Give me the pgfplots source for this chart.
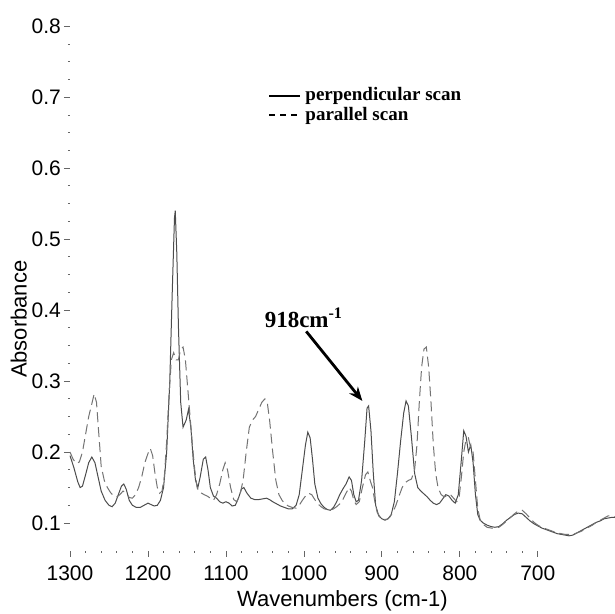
\documentclass[border=0pt]{standalone}
\usepackage{fontspec}
\setmainfont{Liberation Sans}
\newfontfamily\tnr{Liberation Serif}
\usepackage{pgfplots}
\pgfplotsset{compat=1.18}
\usetikzlibrary{arrows.meta}

\pgfplotstableread{
w a
1300 0.195
1295 0.178
1290 0.158
1287 0.150
1284 0.152
1280 0.168
1276 0.185
1272 0.193
1268 0.185
1264 0.165
1260 0.145
1255 0.132
1250 0.125
1246 0.123
1242 0.128
1238 0.140
1234 0.152
1231 0.155
1228 0.148
1224 0.132
1220 0.125
1215 0.122
1210 0.122
1205 0.125
1200 0.128
1196 0.126
1192 0.124
1188 0.125
1184 0.132
1180 0.150
1176 0.200
1172 0.300
1169 0.420
1166 0.530
1165 0.540
1163 0.480
1161 0.380
1158 0.270
1155 0.235
1151 0.245
1148 0.260
1145 0.235
1142 0.190
1139 0.160
1136 0.150
1133 0.165
1129 0.190
1126 0.193
1123 0.175
1120 0.150
1116 0.138
1112 0.135
1108 0.130
1104 0.128
1100 0.130
1096 0.128
1092 0.124
1088 0.125
1084 0.135
1080 0.148
1077 0.150
1073 0.142
1068 0.135
1063 0.133
1058 0.133
1053 0.134
1048 0.135
1044 0.133
1040 0.130
1035 0.127
1030 0.124
1025 0.122
1020 0.120
1015 0.120
1010 0.125
1006 0.140
1002 0.175
998 0.210
995 0.228
992 0.220
989 0.190
986 0.155
982 0.135
978 0.127
974 0.122
970 0.119
966 0.118
962 0.122
958 0.130
954 0.140
950 0.148
946 0.155
942 0.165
939 0.160
936 0.140
933 0.130
930 0.132
926 0.160
922 0.215
919 0.262
917 0.265
914 0.230
911 0.170
908 0.125
904 0.110
900 0.106
896 0.104
892 0.106
888 0.112
884 0.130
880 0.170
876 0.215
872 0.255
869 0.272
866 0.265
862 0.220
858 0.170
854 0.150
850 0.145
846 0.141
842 0.137
838 0.132
834 0.128
830 0.126
826 0.128
822 0.134
818 0.140
814 0.138
810 0.132
806 0.128
802 0.140
798 0.190
795 0.230
792 0.222
789 0.200
786 0.210
783 0.185
780 0.140
777 0.112
774 0.104
770 0.100
765 0.097
760 0.095
755 0.094
750 0.095
745 0.099
740 0.104
735 0.108
730 0.112
725 0.114
720 0.113
715 0.108
710 0.103
705 0.099
700 0.096
695 0.093
690 0.091
685 0.089
680 0.087
675 0.085
670 0.084
665 0.083
660 0.082
655 0.083
650 0.086
645 0.089
640 0.092
635 0.095
630 0.098
625 0.101
620 0.103
615 0.106
610 0.107
605 0.108
601 0.108
}\perp

\pgfplotstableread{
w a
1300 0.200
1296 0.190
1292 0.184
1288 0.186
1284 0.200
1280 0.225
1276 0.250
1272 0.268
1269 0.282
1266 0.270
1263 0.225
1260 0.180
1256 0.160
1252 0.150
1248 0.143
1244 0.138
1240 0.137
1236 0.140
1232 0.145
1228 0.142
1224 0.136
1220 0.135
1216 0.140
1212 0.150
1208 0.165
1204 0.185
1200 0.198
1197 0.205
1194 0.195
1191 0.170
1188 0.150
1185 0.142
1182 0.145
1179 0.165
1176 0.215
1173 0.280
1170 0.330
1167 0.340
1164 0.330
1161 0.330
1158 0.345
1155 0.348
1152 0.330
1149 0.290
1146 0.250
1143 0.210
1140 0.175
1137 0.150
1134 0.143
1131 0.142
1128 0.140
1124 0.138
1120 0.135
1116 0.132
1112 0.140
1108 0.155
1104 0.175
1101 0.185
1098 0.175
1094 0.150
1090 0.133
1086 0.130
1082 0.140
1078 0.160
1074 0.200
1070 0.235
1066 0.245
1062 0.250
1058 0.260
1054 0.270
1050 0.275
1047 0.270
1044 0.245
1040 0.200
1036 0.160
1032 0.140
1028 0.132
1024 0.127
1020 0.124
1015 0.122
1010 0.121
1006 0.125
1002 0.132
998 0.138
994 0.142
990 0.140
986 0.133
982 0.127
978 0.123
974 0.120
970 0.119
966 0.118
962 0.120
958 0.123
954 0.127
950 0.133
946 0.142
942 0.150
939 0.145
936 0.132
933 0.126
929 0.130
925 0.150
921 0.168
918 0.172
915 0.160
912 0.150
909 0.130
906 0.115
902 0.108
898 0.105
894 0.105
890 0.108
886 0.115
882 0.125
878 0.138
874 0.150
870 0.157
866 0.160
862 0.162
858 0.175
855 0.210
852 0.270
849 0.320
846 0.345
843 0.348
840 0.320
837 0.270
834 0.210
831 0.170
828 0.150
824 0.140
820 0.137
816 0.138
812 0.140
808 0.135
804 0.130
801 0.135
798 0.165
795 0.200
792 0.218
789 0.220
786 0.205
783 0.200
780 0.160
777 0.120
774 0.105
770 0.098
765 0.094
760 0.093
755 0.093
750 0.094
745 0.098
740 0.103
735 0.108
730 0.113
725 0.117
720 0.118
715 0.113
710 0.107
705 0.101
700 0.097
695 0.094
690 0.092
685 0.090
680 0.088
675 0.086
670 0.085
665 0.084
660 0.084
655 0.084
650 0.086
645 0.088
640 0.091
635 0.094
630 0.097
625 0.101
620 0.104
615 0.107
610 0.110
605 0.110
601 0.109
}\para

\begin{document}
\begin{tikzpicture}
% fixed page size: 615 x 614 px at 0.5pt per px
\path[use as bounding box] (-35pt,-31.5pt) rectangle (272.5pt,275.5pt);
\begin{axis}[
  scale only axis,
  width=272.5pt, height=269.5pt,
  x dir=reverse,
  xmin=601, xmax=1300,
  ymin=0.0606, ymax=0.82,
  axis line style={draw=none},
  xtick pos=bottom, ytick pos=left,
  tick align=outside,
  xtick={700,800,...,1300},
  ytick={0.1,0.2,...,0.8},
  minor x tick num=4,
  minor y tick num=3,
  major tick length=3pt,
  minor tick length=1pt,
  tick style={black!60, line width=0.4pt},
  /pgf/number format/assume math mode=true,
  /pgf/number format/.cd, fixed, precision=1, use period, 1000 sep={},
  /pgfplots/.cd,
  ticklabel style={font=\fontsize{10.5}{12}\selectfont},
  yticklabel style={xshift=2pt},
  xticklabel style={yshift=-1pt},
  xlabel={Wavenumbers (cm-1)},
  ylabel={Absorbance},
  label style={font=\fontsize{11}{13}\selectfont},
  xlabel style={yshift=2pt},
  ylabel style={at={(axis description cs:-0.094,0.43)}, anchor=center},
  legend style={at={(rel axis cs:0.352,0.875)}, anchor=north west,
    draw=none, fill=none, font=\tnr\bfseries\fontsize{9.5}{10}\selectfont,
    row sep=-2.5pt},
  legend cell align=left,
  legend image code/.code={\draw[#1] (0pt,0pt) -- (15.5pt,0pt);},
  clip=false,
]
\addplot[black!70, line width=0.5pt, forget plot] table[x=w, y=a] {\perp};
\addplot[black!55, line width=0.5pt, dash pattern=on 5pt off 2.5pt, forget plot] table[x=w, y=a] {\para};
\addlegendimage{black, line width=1.1pt}
\addlegendentry{perpendicular scan}
\addlegendimage{black, line width=0.9pt, dash pattern=on 3pt off 2.5pt}
\addlegendentry{parallel scan}
\node[font=\tnr\bfseries\fontsize{11.5}{13}\selectfont] at (axis cs:1000,0.389) {918cm\textsuperscript{-1}};
\draw[black, line width=1.4pt, -{Stealth[length=7pt, width=5.5pt]}] (axis cs:997,0.370) -- (axis cs:925,0.272);
\end{axis}
\end{tikzpicture}
\end{document}
